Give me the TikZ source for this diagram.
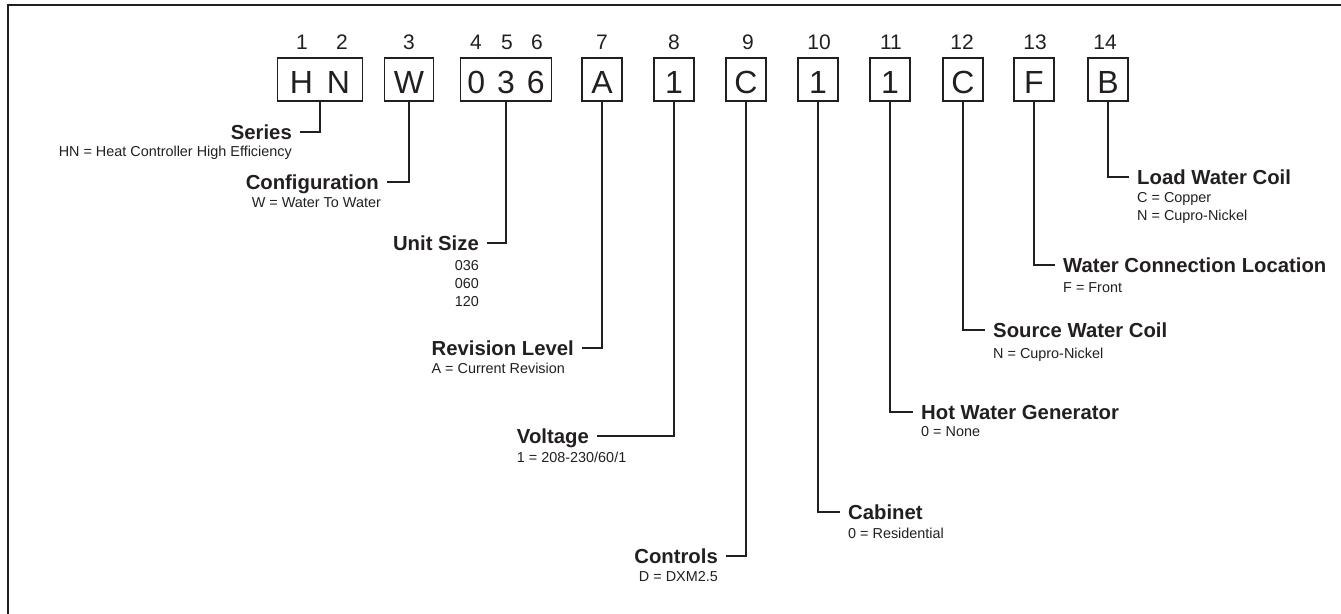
\documentclass[tikz,border=0pt]{standalone}
\usepackage{fontspec}
\setmainfont{Liberation Sans}
\definecolor{ink}{HTML}{231F20}
\tikzset{
  codebox/.style={draw=ink, line width=1.5pt, minimum width=40pt, minimum height=43pt, inner sep=0pt, text height=28pt, text depth=0pt, font=\fontsize{32}{32}\selectfont},
  digitpos/.style={font=\fontsize{21}{21}\selectfont},
  field/.style={font=\bfseries\fontsize{20.3}{20.3}\selectfont, inner xsep=8pt, inner ysep=0pt, text height=14pt, text depth=0pt},
  note/.style={font=\fontsize{14.4}{17.8}\selectfont, inner sep=0pt},
  wire/.style={draw=ink, line width=1.5pt}
}
\begin{document}
\begin{tikzpicture}[x=1pt, y=-1pt, every node/.style={text=ink}]
\useasboundingbox (0,0) rectangle (1341,613);
\draw[ink, line width=2.7pt] (8,640) -- (8,5) -- (1370,5);
% model number boxes
\node[codebox, minimum width=85pt] (hn) at (320,79.5) {H\hspace{14pt}N};
\node[codebox, minimum width=49pt] (w) at (409,79.5) {W};
\node[codebox, minimum width=91pt] (size) at (506,79.5) {0\hspace{12pt}3\hspace{12pt}6};
\node[codebox] (rev) at (602,79.5) {A};
\node[codebox] (volt) at (674,79.5) {1};
\node[codebox] (ctrl) at (746,79.5) {C};
\node[codebox] (cab) at (818,79.5) {1};
\node[codebox] (hwg) at (890,79.5) {1};
\node[codebox] (src) at (963,79.5) {C};
\node[codebox] (conn) at (1034,79.5) {F};
\node[codebox] (load) at (1108,79.5) {B};
% digit positions
\foreach \n/\x in {1/302,2/342,3/409,4/476,5/507,6/537,7/602,8/674,9/748,10/819,11/891,12/962,13/1035,14/1105}
  \node[digitpos] (p\n) at (\x,42) {\n};
% fields, left side
\node[field, anchor=east] (series) at (300,132) {Series};
\node[note, anchor=north east] (seriesnote) at ([shift={(-8pt,-7pt)}]series.south east) {HN = Heat Controller High Efficiency};
\node[field, anchor=east] (config) at (387,182) {Configuration};
\node[note, anchor=north east] (confignote) at ([shift={(-6pt,-8pt)}]config.south east) {W = Water To Water};
\node[field, anchor=east] (unitsize) at (487,243) {Unit Size};
\node[note, anchor=north east, align=right] (unitsizenote) at ([shift={(-8pt,-10pt)}]unitsize.south east) {036\\060\\120};
\node[field, anchor=east] (revision) at (582,348) {Revision Level};
\node[note, anchor=north west] (revisionnote) at ([shift={(8pt,-8pt)}]revision.south west) {A = Current Revision};
\node[field, anchor=east] (voltage) at (597,436) {Voltage};
\node[note, anchor=north west] (voltagenote) at ([shift={(8pt,-9pt)}]voltage.south west) {1 = 208-230/60/1};
\node[field, anchor=east] (controls) at (726,556) {Controls};
\node[note, anchor=north east] (controlsnote) at ([shift={(-8pt,-8pt)}]controls.south east) {D = DXM2.5};
% fields, right side
\node[field, anchor=west] (cabinet) at (840,512) {Cabinet};
\node[note, anchor=north west] (cabinetnote) at ([shift={(8pt,-9pt)}]cabinet.south west) {0 = Residential};
\node[field, anchor=west] (hotwater) at (913,412) {Hot Water Generator};
\node[note, anchor=north west] (hotwaternote) at ([shift={(8pt,-7pt)}]hotwater.south west) {0 = None};
\node[field, anchor=west] (source) at (985,330) {Source Water Coil};
\node[note, anchor=north west] (sourcenote) at ([shift={(8pt,-11pt)}]source.south west) {N = Cupro-Nickel};
\node[field, anchor=west] (connection) at (1055,265) {Water Connection Location};
\node[note, anchor=north west] (connectionnote) at ([shift={(8pt,-10pt)}]connection.south west) {F = Front};
\node[field, anchor=west] (loadcoil) at (1129,177) {Load Water Coil};
\node[note, anchor=north west, align=left] (loadcoilnote) at ([shift={(8pt,-8pt)}]loadcoil.south west) {C = Copper\\N = Cupro-Nickel};
% leaders
\draw[wire] (hn.south) |- (series.east);
\draw[wire] (w.south) |- (config.east);
\draw[wire] (size.south) |- (unitsize.east);
\draw[wire] (rev.south) |- (revision.east);
\draw[wire] (volt.south) |- (voltage.east);
\draw[wire] (ctrl.south) |- (controls.east);
\draw[wire] (cab.south) |- (cabinet.west);
\draw[wire] (hwg.south) |- (hotwater.west);
\draw[wire] (src.south) |- (source.west);
\draw[wire] (conn.south) |- (connection.west);
\draw[wire] (load.south) |- (loadcoil.west);
\end{tikzpicture}
\end{document}
